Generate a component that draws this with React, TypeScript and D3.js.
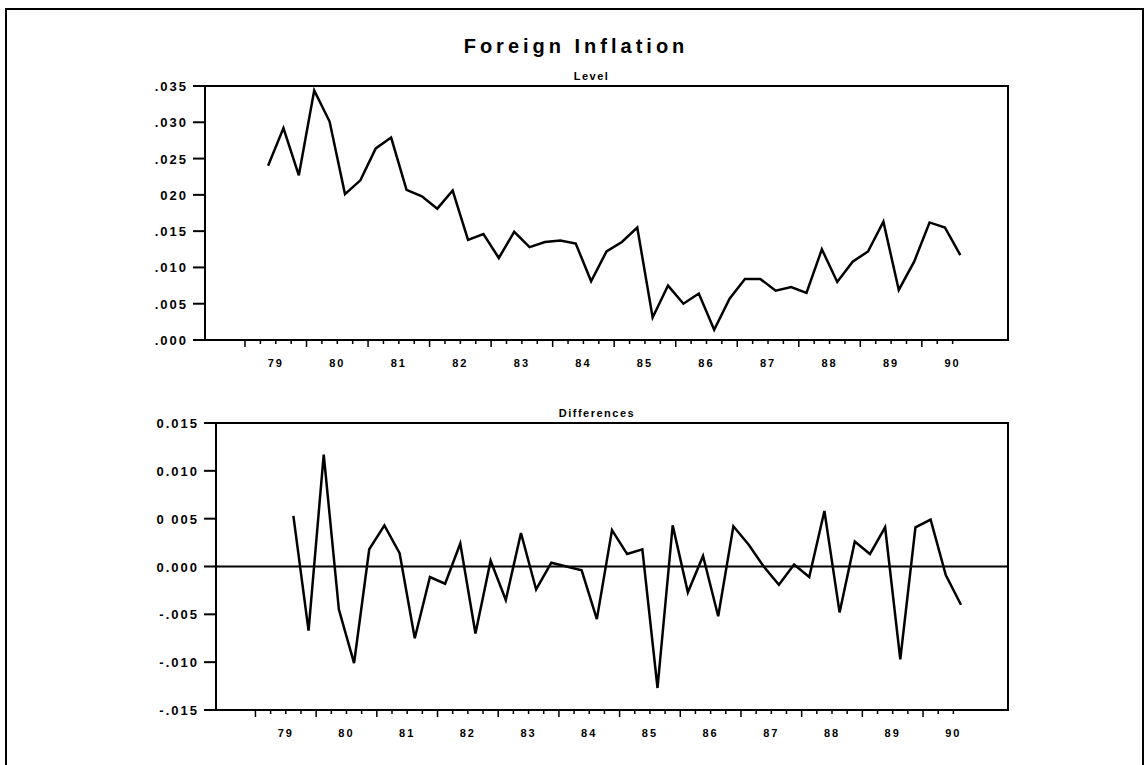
import { scaleLinear, line as d3_line, range } from "d3";

// quarterly foreign inflation, 1979Q2 .. 1990Q3
const levels = [
  0.024, 0.0292, 0.0227, 0.0344, 0.0301, 0.0201, 0.022, 0.0264, 0.0279, 0.0207,
  0.0198, 0.0181, 0.0206, 0.0138, 0.0146, 0.0113, 0.0149, 0.0128, 0.0135, 0.0137,
  0.0133, 0.0081, 0.0122, 0.0135, 0.0155, 0.0031, 0.0075, 0.005, 0.0064, 0.0014,
  0.0057, 0.0084, 0.0084, 0.0068, 0.0073, 0.0065, 0.0125, 0.008, 0.0108, 0.0122,
  0.0163, 0.0069, 0.0108, 0.0162, 0.0155, 0.0117,
];
const diffs = [
  0.0053, -0.0067, 0.0117, -0.0045, -0.0101, 0.0018, 0.0043, 0.0014, -0.0075, -0.0011,
  -0.0018, 0.0024, -0.007, 0.0006, -0.0035, 0.0035, -0.0024, 0.0004, 0.0, -0.0004,
  -0.0055, 0.0038, 0.0013, 0.0018, -0.0127, 0.0043, -0.0027, 0.0011, -0.0052, 0.0042,
  0.0023, 0.0, -0.0019, 0.0002, -0.0011, 0.0058, -0.0048, 0.0026, 0.0013, 0.0041,
  -0.0097, 0.0041, 0.0049, -0.0009, -0.004,
];
const yearLabels = ["79", "80", "81", "82", "83", "84", "85", "86", "87", "88", "89", "90"];
const levelTicks = [0, 0.005, 0.01, 0.015, 0.02, 0.025, 0.03, 0.035];
const levelTickLabels = [".000", ".005", ".010", ".015", "020", ".025", ".030", ".035"];
const diffTicks = [-0.015, -0.01, -0.005, 0, 0.005, 0.01, 0.015];
const diffTickLabels = ["-.015", "-.010", "-.005", "0.000", "0 005", "0.010", "0.015"];

const firstT = 1979.375;
const xDomain = [1978.35, 1991.4];
const FONT = "'Liberation Sans', Arial, sans-serif";

interface PanelProps {
  top: number;
  bottom: number;
  left: number;
  right: number;
  title: string;
  values: number[];
  offset: number;
  yDomain: number[];
  ticks: number[];
  tickLabels: string[];
  zeroLine?: boolean;
}

function Panel({ top, bottom, left, right, title, values, offset, yDomain, ticks, tickLabels, zeroLine }: PanelProps) {
  const x = scaleLinear().domain(xDomain).range([left, right]);
  const y = scaleLinear().domain(yDomain).range([bottom, top]);
  const path = d3_line<number>()
    .x((_, i) => x(firstT + (i + offset) * 0.25))
    .y((d) => y(d))(values);
  const quarters = range(0, 47).map((q) => 1979 + q * 0.25);
  return (
    <g>
      <text x={(left + right) / 2 - 15} y={top - 6} textAnchor="middle" fontFamily={FONT} fontWeight="bold" fontSize={11} letterSpacing={1.5}>
        {title}
      </text>
      <rect x={left} y={top} width={right - left} height={bottom - top} fill="none" stroke="#000" strokeWidth={2} />
      {ticks.map((t, i) => (
        <g key={i}>
          <line x1={left - 12} x2={left} y1={y(t)} y2={y(t)} stroke="#000" strokeWidth={2} />
          <text x={left - 17} y={y(t) + 5} textAnchor="end" fontFamily={FONT} fontWeight="bold" fontSize={13} letterSpacing={2}>
            {tickLabels[i]}
          </text>
        </g>
      ))}
      {quarters.map((q, i) => (
        <line key={i} x1={x(q)} x2={x(q)} y1={bottom} y2={bottom + (i % 4 === 0 ? 7 : 4)} stroke="#000" strokeWidth={1.5} />
      ))}
      {yearLabels.map((l, i) => (
        <text key={l} x={x(1979.5 + i)} y={bottom + 27} textAnchor="middle" fontFamily={FONT} fontWeight="bold" fontSize={11} letterSpacing={2}>
          {l}
        </text>
      ))}
      {zeroLine && <line x1={left} x2={right} y1={y(0)} y2={y(0)} stroke="#000" strokeWidth={2} />}
      <path d={path ?? ""} fill="none" stroke="#000" strokeWidth={2.5} strokeLinejoin="miter" />
    </g>
  );
}

export default function App() {
  return (
    <svg width={1145} height={765} style={{ position: "absolute", left: 0, top: 0, background: "#fff" }}>
      <rect x={6} y={9} width={1137} height={800} fill="none" stroke="#000" strokeWidth={2} />
      <text x={576} y={53} textAnchor="middle" fontFamily={FONT} fontWeight="bold" fontSize={20} letterSpacing={4}>
        Foreign Inflation
      </text>
      <Panel top={86} bottom={340} left={205} right={1008} title="Level" values={levels} offset={0}
        yDomain={[0, 0.035]} ticks={levelTicks} tickLabels={levelTickLabels} />
      <Panel top={423} bottom={710} left={216} right={1008} title="Differences" values={diffs} offset={1}
        yDomain={[-0.015, 0.015]} ticks={diffTicks} tickLabels={diffTickLabels} zeroLine />
    </svg>
  );
}
